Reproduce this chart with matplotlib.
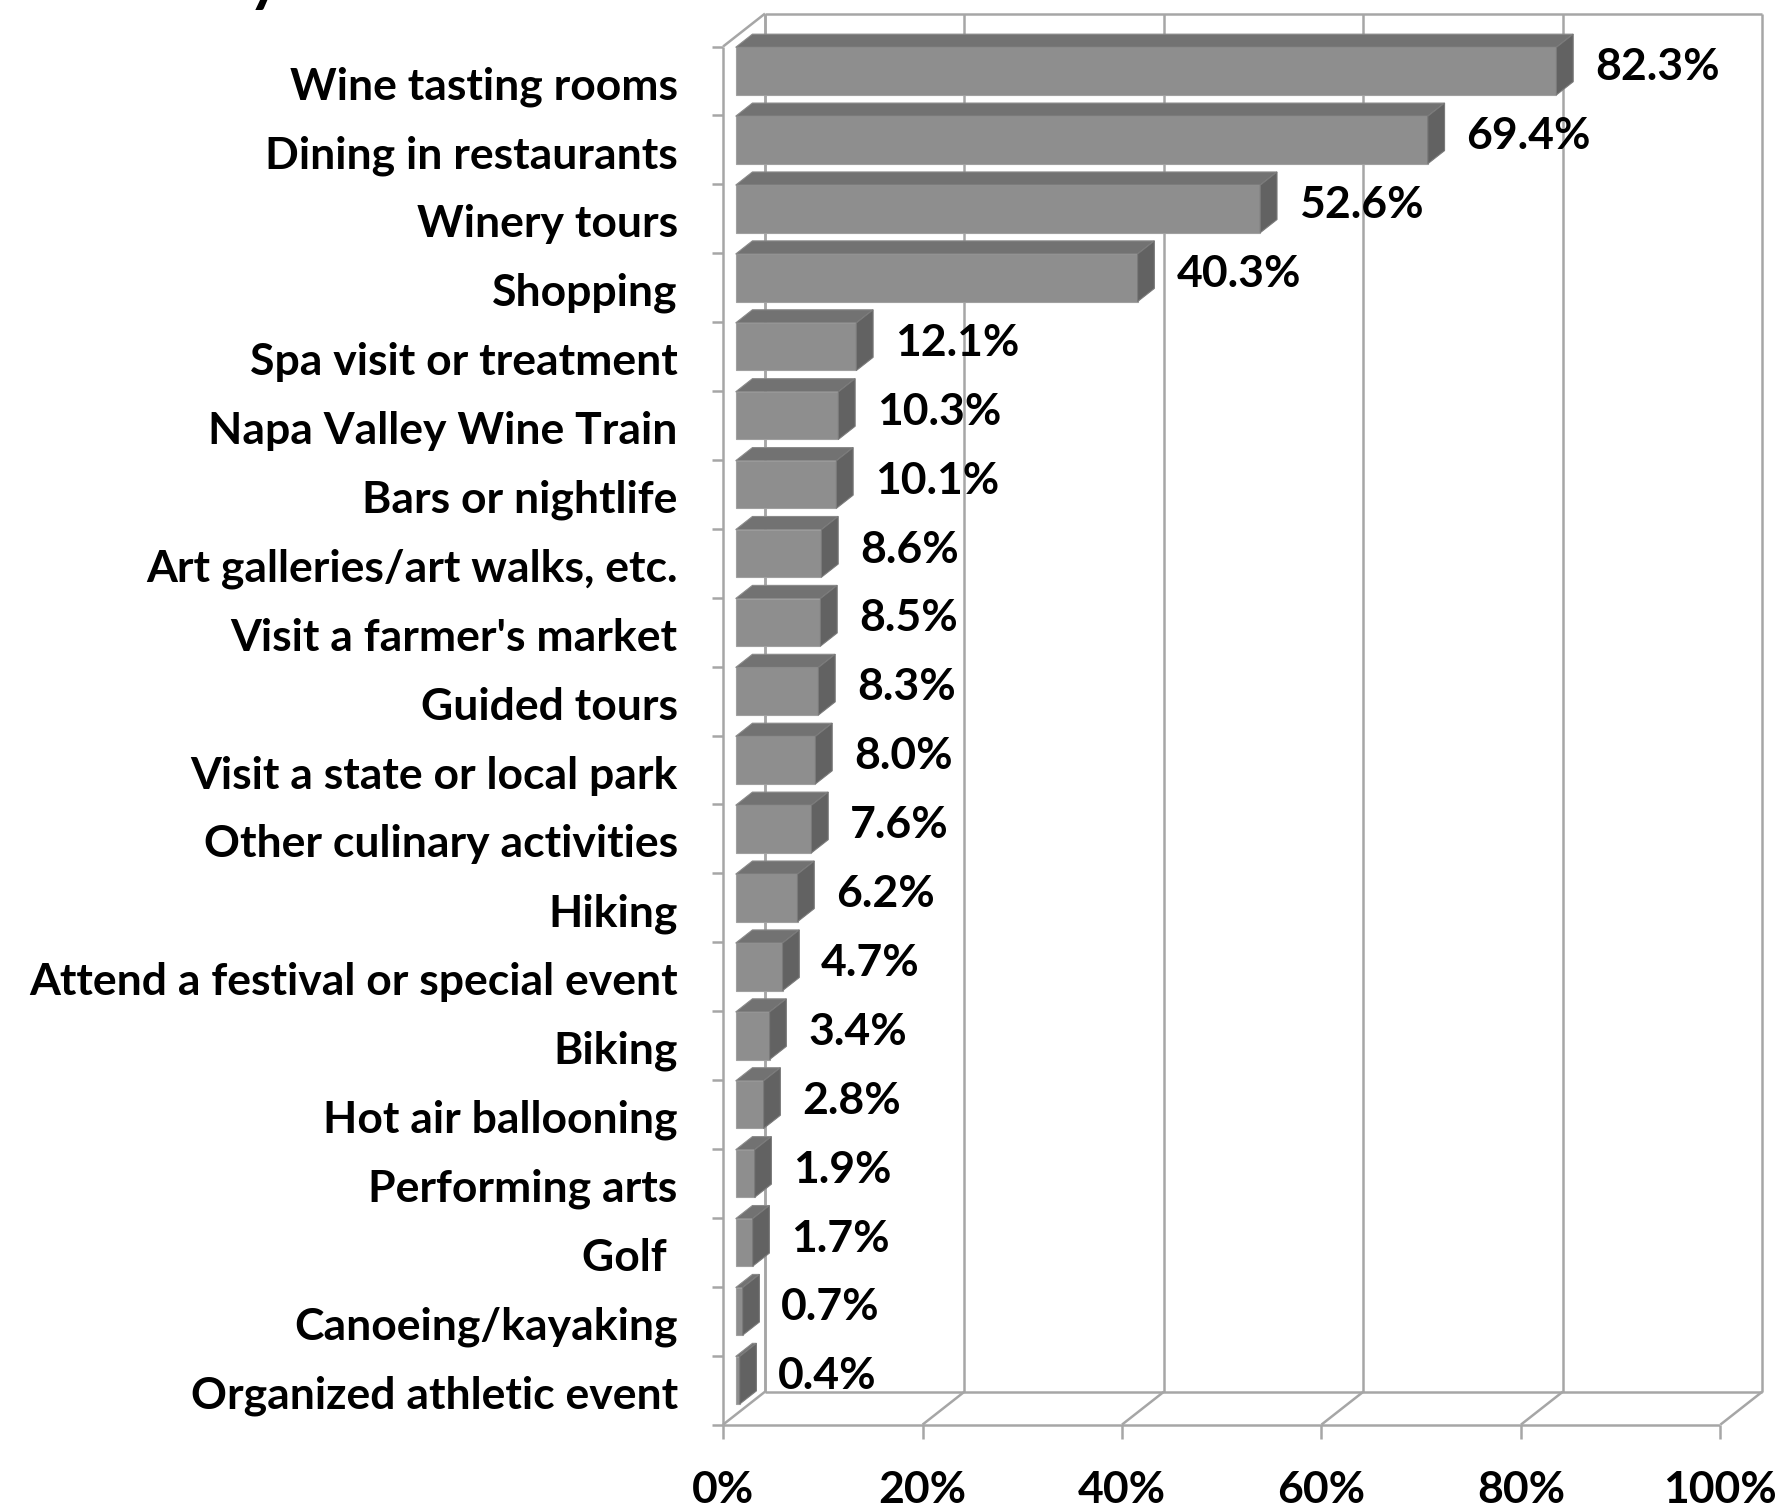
import matplotlib.pyplot as plt
from matplotlib.patches import Polygon

# Dane (procentai)
categories = [
    "Wine tasting rooms", "Dining in restaurants", "Winery tours", "Shopping",
    "Spa visit or treatment", "Napa Valley Wine Train", "Bars or nightlife",
    "Art galleries/art walks, etc.", "Visit a farmer's market", "Guided tours",
    "Visit a state or local park", "Other culinary activities", "Hiking",
    "Attend a festival or special event", "Biking", "Hot air ballooning",
    "Performing arts", "Golf ", "Canoeing/kayaking", "Organized athletic event",
]
values = [82.3, 69.4, 52.6, 40.3, 12.1, 10.3, 10.1, 8.6, 8.5, 8.3,
          8.0, 7.6, 6.2, 4.7, 3.4, 2.8, 1.9, 1.7, 0.7, 0.4]
value_labels = ["82.3%", "69.4%", "52.6%", "40.3%", "12.1%", "10.3%", "10.1%",
                "8.6%", "8.5%", "8.3%", "8.0%", "7.6%", "6.2%", "4.7%", "3.4%",
                "2.8%", "1.9%", "1.7%", "0.7%", "0.4%"]
x_ticks = [0, 20, 40, 60, 80, 100]
x_tick_labels = ["0%", "20%", "40%", "60%", "80%", "100%"]

plt.rcParams['font.family'] = ['Lato', 'DejaVu Sans']
FS = 32
GRID = '#a6a6a6'

W, H = 1777, 1510
fig = plt.figure(figsize=(W / 100, H / 100), dpi=100)
ax = fig.add_axes([0, 0, 1, 1])
ax.axis('off')

# priekine plokstuma: 0% ties 723 px, 100% ties 1720 px; kategorijos 0..20
px_x = (1720.4 - 723.1) / 100
px_y = (1463.5 - 85.4) / 20
ax.set_xlim(-723.1 / px_x, (W - 723.1) / px_x)
ax.set_ylim(-85.4 / px_y, (H - 85.4) / px_y)

n = len(categories)
dx, dy = 41.9 / px_x, 32.9 / px_y   # gylio poslinkis
kw = dict(color=GRID, lw=1.8, solid_capstyle='butt', zorder=1)

# sienos ir grindys
ax.plot([0, 0], [0, n], **kw)
ax.plot([dx, dx], [dy, n + dy], **kw)
ax.plot([0, dx], [n, n + dy], **kw)
ax.plot([dx, 100 + dx], [n + dy, n + dy], **kw)
ax.plot([dx, 100 + dx], [dy, dy], **kw)
ax.plot([0, 100], [0, 0], **kw)
for t in x_ticks:
    ax.plot([t + dx, t + dx], [dy, n + dy], **kw)
    ax.plot([t, t + dx], [0, dy], **kw)
    ax.plot([t, t], [0, -0.21], **kw)
for k in range(n + 1):
    ax.plot([-1.1, 0], [k, k], **kw)

# 3D stulpeliai
d0, d1 = 0.3, 0.7
h = 0.345
for i, (cat, v, lab) in enumerate(zip(categories, values, value_labels)):
    yc = n - i - 0.5
    x0, x1 = d0 * dx, v + d0 * dx
    yb, yt = yc - h + d0 * dy, yc + h + d0 * dy
    ddx, ddy = (d1 - d0) * dx, (d1 - d0) * dy
    front = Polygon([(x0, yb), (x1, yb), (x1, yt), (x0, yt)],
                    facecolor='#8e8e8e', edgecolor='#a0a0a0', lw=0.8, zorder=3)
    top = Polygon([(x0, yt), (x1, yt), (x1 + ddx, yt + ddy), (x0 + ddx, yt + ddy)],
                  facecolor='#727272', edgecolor='#8a8a8a', lw=0.8, zorder=3)
    side = Polygon([(x1, yb), (x1, yt), (x1 + ddx, yt + ddy), (x1 + ddx, yb + ddy)],
                   facecolor='#626262', edgecolor='#7a7a7a', lw=0.8, zorder=3)
    for p in (front, top, side):
        ax.add_patch(p)
    ax.text(-4.55, yc - 0.08, cat, ha='right', va='center',
            fontsize=FS, fontweight='bold', color='black')
    ax.text(v + d1 * dx + 2.2, yc + 0.2, lab, ha='left', va='center',
            fontsize=FS, fontweight='bold', color='black', zorder=4)

for t, lab in zip(x_ticks, x_tick_labels):
    ax.text(t, -0.95, lab, ha='center', va='center',
            fontsize=FS, fontweight='bold', color='black')

# nukirpto pavadinimo fragmentas
fig.text(248 / W, 1.0, "y", ha='left', va='baseline',
         fontsize=46, fontweight='bold', color='black')

fig.savefig('out.png', dpi=100)
